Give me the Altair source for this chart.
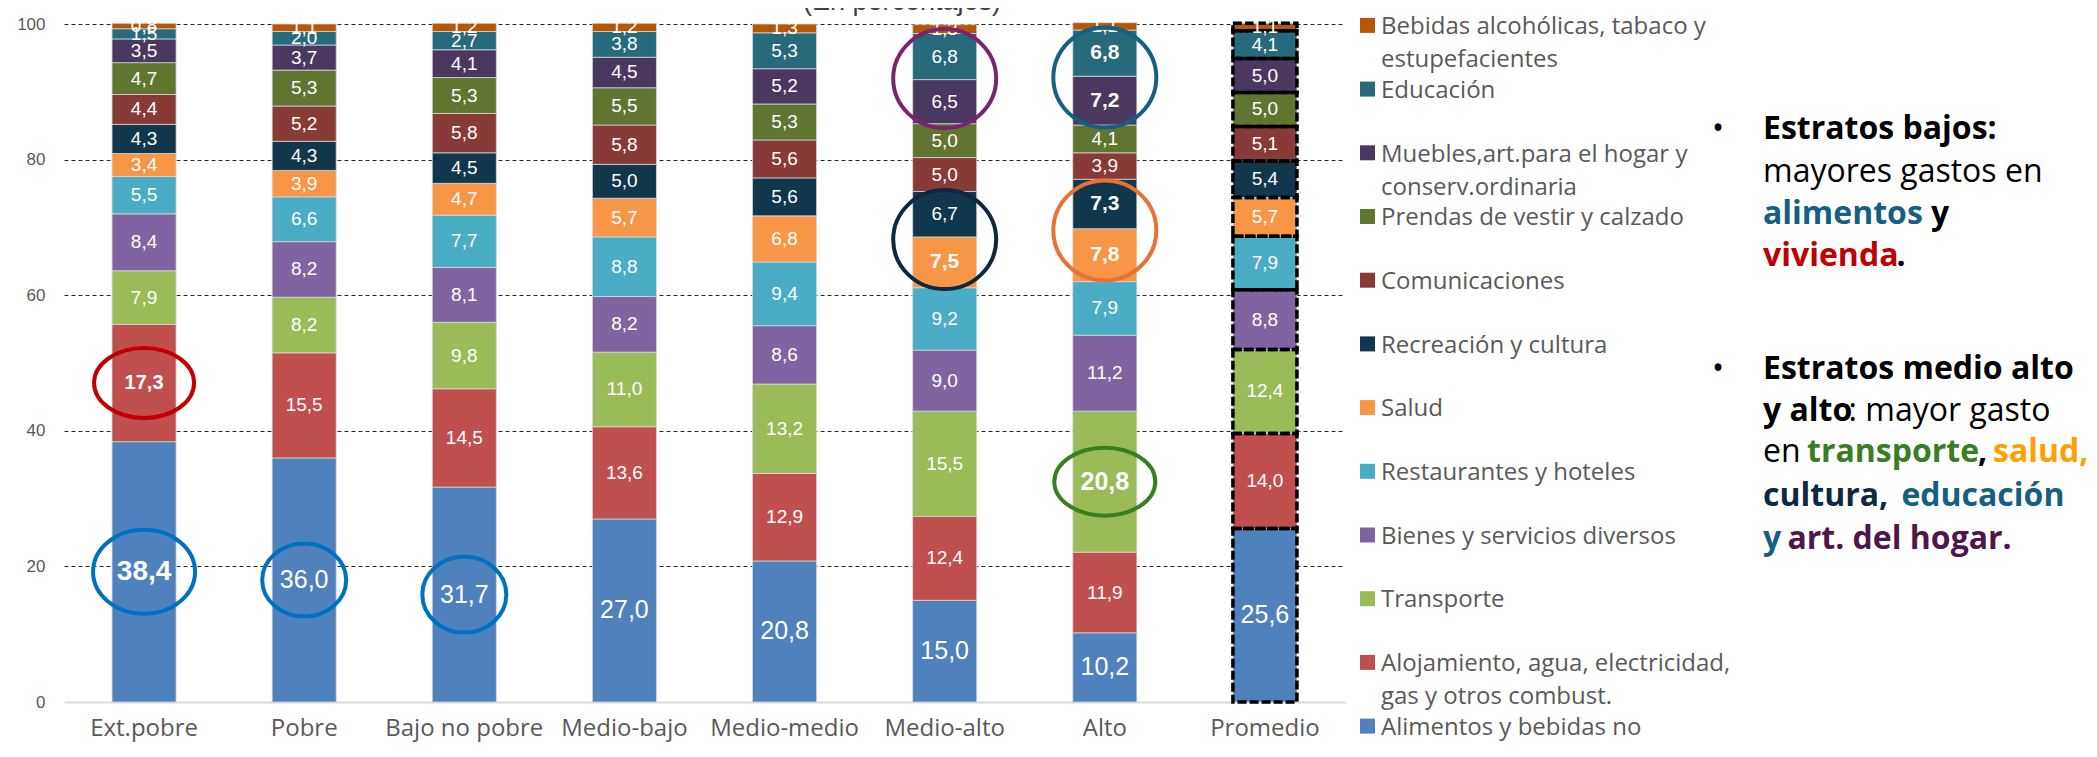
import altair as alt
import pandas as pd

categories = ["Ext.pobre", "Pobre", "Bajo no pobre", "Medio-bajo", "Medio-medio",
              "Medio-alto", "Alto", "Promedio"]

series = [
    "Alimentos y bebidas no\nalcohólicas",
    "Alojamiento, agua, electricidad,\ngas y otros combust.",
    "Transporte",
    "Bienes y servicios diversos",
    "Restaurantes y hoteles",
    "Salud",
    "Recreación y cultura",
    "Comunicaciones",
    "Prendas de vestir y calzado",
    "Muebles,art.para el hogar y\nconserv.ordinaria",
    "Educación",
    "Bebidas alcohólicas, tabaco y\nestupefacientes",
]

alimentos = [38.4, 36.0, 31.7, 27.0, 20.8, 15.0, 10.2, 25.6]
alojamiento = [17.3, 15.5, 14.5, 13.6, 12.9, 12.4, 11.9, 14.0]
transporte = [7.9, 8.2, 9.8, 11.0, 13.2, 15.5, 20.8, 12.4]
bienes = [8.4, 8.2, 8.1, 8.2, 8.6, 9.0, 11.2, 8.8]
restaurantes = [5.5, 6.6, 7.7, 8.8, 9.4, 9.2, 7.9, 7.9]
salud = [3.4, 3.9, 4.7, 5.7, 6.8, 7.5, 7.8, 5.7]
recreacion = [4.3, 4.3, 4.5, 5.0, 5.6, 6.7, 7.3, 5.4]
comunicaciones = [4.4, 5.2, 5.8, 5.8, 5.6, 5.0, 3.9, 5.1]
prendas = [4.7, 5.3, 5.3, 5.5, 5.3, 5.0, 4.1, 5.0]
muebles = [3.5, 3.7, 4.1, 4.5, 5.2, 6.5, 7.2, 5.0]
educacion = [1.5, 2.0, 2.7, 3.8, 5.3, 6.8, 6.8, 4.1]
bebidas = [0.8, 1.1, 1.2, 1.2, 1.3, 1.3, 1.1, 1.1]

values = [alimentos, alojamiento, transporte, bienes, restaurantes, salud,
          recreacion, comunicaciones, prendas, muebles, educacion, bebidas]

colors = ["#4F81BD", "#C0504D", "#9BBB59", "#8064A2", "#4BACC6", "#F79646",
          "#10374B", "#873A36", "#5F7530", "#4A3860", "#276A7C", "#B65708"]

# label emphasis: (category, series index) -> (font size, bold)
emphasis = {
    ("Ext.pobre", 1): (20, True),
    ("Ext.pobre", 0): (28, True),
    ("Medio-alto", 5): (21, True),
    ("Alto", 5): (21, True),
    ("Alto", 6): (21, True),
    ("Alto", 9): (21, True),
    ("Alto", 10): (21, True),
    ("Alto", 2): (25, True),
}

# highlight ellipses: category, series indices, colour, width px, height px
highlights = [
    ("Ext.pobre", [1], "#C00000", 100, 70),
    ("Ext.pobre", [0], "#0070C0", 102, 84),
    ("Pobre", [0], "#0070C0", 84, 73),
    ("Bajo no pobre", [0], "#0070C0", 84, 76),
    ("Medio-alto", [9, 10], "#7B2373", 103, 99),
    ("Medio-alto", [5, 6], "#0E2841", 103, 99),
    ("Alto", [9, 10], "#156082", 103, 100),
    ("Alto", [5, 6], "#E97132", 103, 100),
    ("Alto", [2], "#3A7D22", 101, 68),
]


def ellipse_path(w, h):
    m = max(w, h)
    a, b = w / m, h / m
    k = 0.5523
    return (f"M {a} 0 C {a} {k*b} {k*a} {b} 0 {b} "
            f"C {-k*a} {b} {-a} {k*b} {-a} 0 "
            f"C {-a} {-k*b} {-k*a} {-b} 0 {-b} "
            f"C {k*a} {-b} {a} {-k*b} {a} 0 Z")


hl_lookup = {}
for hi, (c, idxs, col, w, h) in enumerate(highlights):
    for si in idxs:
        hl_lookup[(c, si)] = (f"h{hi}", col, ellipse_path(w, h), max(w, h) ** 2)

rows = []
for si, s in enumerate(series):
    for ci, c in enumerate(categories):
        v = values[si][ci]
        fs, bold = emphasis.get((c, si), (25 if si == 0 else 19, False))
        hl, hcol, hpath, hsize = hl_lookup.get((c, si), ("", "", "", 0))
        rows.append(dict(cat=c, serie=s, si=si, v=v,
                         label=f"{v:.1f}".replace(".", ","),
                         fs=fs, bold=bold, hl=hl, hcol=hcol, hpath=hpath, hsize=hsize))
df = pd.DataFrame(rows)

legend_df = pd.DataFrame({"serie": series, "lrank": [len(series) - 1 - i for i in range(len(series))]})

W, H = 1281, 678

x_axis = alt.Axis(title=None, labelAngle=0, labelFont="Open Sans", labelFontSize=24,
                  labelColor="#595959", ticks=False, domainColor="#D9D9D9", domainWidth=2,
                  labelPadding=14, grid=False)
y_axis = alt.Axis(title=None, values=[0, 20, 40, 60, 80, 100], labelFont="Liberation Sans",
                  labelFontSize=17, labelColor="#595959", ticks=False, domain=False,
                  labelPadding=19, gridDash=[4, 3], gridColor="#262626", gridWidth=1,
                  gridOpacity={"condition": {"test": "datum.value === 0", "value": 0}, "value": 1})
x_scale = alt.Scale(paddingInner=0.6, paddingOuter=0.3)
y_scale = alt.Scale(domain=[0, 100], nice=False)
color_scale = alt.Scale(domain=series, range=colors)

X = alt.X("cat:N", sort=categories, scale=x_scale, axis=x_axis)

base = alt.Chart(df).transform_stack(
    stack="v", groupby=["cat"], as_=["y0", "y1"],
    sort=[alt.SortField("si", order="ascending")]
).transform_calculate(mid="(datum.y0 + datum.y1) / 2")

bars = base.mark_bar(stroke="#D9D9D9", strokeWidth=0.75).encode(
    x=X,
    y=alt.Y("y0:Q", scale=y_scale, axis=y_axis),
    y2="y1:Q",
    color=alt.Color("serie:N", scale=color_scale, legend=None),
)

prom = base.transform_filter(alt.datum.cat == "Promedio").mark_bar(
    fillOpacity=0, stroke="black", strokeWidth=3.5, strokeDash=[9, 3]
).encode(x=X, y=alt.Y("y0:Q", scale=y_scale, axis=y_axis), y2="y1:Q")

lab_norm = base.transform_filter("!datum.bold").mark_text(
    color="white", font="Liberation Sans", baseline="middle", align="center"
).encode(x=X, y=alt.Y("mid:Q", scale=y_scale, axis=y_axis), text="label:N",
         size=alt.Size("fs:Q", scale=None, legend=None))

lab_bold = base.transform_filter("datum.bold").mark_text(
    color="white", font="Liberation Sans", fontWeight="bold", baseline="middle", align="center"
).encode(x=X, y=alt.Y("mid:Q", scale=y_scale, axis=y_axis), text="label:N",
         size=alt.Size("fs:Q", scale=None, legend=None))

ell = base.transform_filter("datum.hl != ''").transform_aggregate(
    lo="min(y0)", hi="max(y1)", groupby=["cat", "hl", "hcol", "hpath", "hsize"]
).transform_calculate(c="(datum.lo + datum.hi) / 2").mark_point(
    filled=False, strokeWidth=4, opacity=1
).encode(
    x=X, y=alt.Y("c:Q", scale=y_scale, axis=y_axis),
    shape=alt.Shape("hpath:N", scale=None, legend=None),
    size=alt.Size("hsize:Q", scale=None, legend=None),
    stroke=alt.Stroke("hcol:N", scale=None, legend=None),
)

plot = alt.layer(bars, prom, lab_norm, lab_bold, ell)

# legend
lscale = alt.Scale(domain=[0, 11], range=[1.4, 702.1])
leg_sq = alt.Chart(legend_df).mark_square(size=225, opacity=1).encode(
    x=alt.value(1303.5),
    y=alt.Y("lrank:Q", scale=lscale, axis=None),
    color=alt.Color("serie:N", scale=color_scale, legend=None),
)
leg_tx = alt.Chart(legend_df).mark_text(
    align="left", baseline="alphabetic", dy=8.7, lineBreak="\n", lineHeight=33,
    font="Open Sans", fontSize=24, color="#595959"
).encode(
    x=alt.value(1317),
    y=alt.Y("lrank:Q", scale=lscale, axis=None),
    text="serie:N",
)

one = alt.Data(values=[{}])


def run(text, x, y, color="black", weight="normal", size=32, font="Open Sans", align="left"):
    return alt.Chart(one).mark_text(
        text=text, x=x, y=y, color=color, fontWeight=weight, fontSize=size,
        font=font, align=align, baseline="alphabetic")


TEAL = "#156082"
notes = [
    run("(En porcentajes)", 838, -14, color="#404040", size=27, font="Liberation Sans", align="center"),
    run("•", 1654, 114.5, align="center"),
    run("Estratos bajos:", 1699, 114.5, weight="bold"),
    run("mayores gastos en", 1699, 158),
    run("alimentos", 1699, 200, color=TEAL, weight="bold"),
    run("y", 1867, 200, weight="bold"),
    run("vivienda", 1699, 241.6, color="#C00000", weight="bold"),
    run(".", 1832.5, 241.6, weight="bold"),
    run("•", 1654, 355, align="center"),
    run("Estratos medio alto", 1699, 355, weight="bold"),
    run("y alto", 1699, 396.7, weight="bold"),
    run(": mayor gasto", 1784.6, 396.7),
    run("en", 1699, 438),
    run("transporte", 1743, 438, color="#3A7D22", weight="bold"),
    run(",", 1914, 438, weight="bold"),
    run("salud,", 1929, 438, color="#FFA000", weight="bold"),
    run("cultura,", 1699, 482, color="#0E2841", weight="bold"),
    run("educación", 1837.4, 482, color=TEAL, weight="bold"),
    run("y", 1699, 525, color=TEAL, weight="bold"),
    run("art. del hogar.", 1723.4, 525, color="#501549", weight="bold"),
]

chart = alt.layer(plot, leg_sq, leg_tx, *notes).resolve_scale(y="independent").properties(
    width=W, height=H,
    autosize=alt.AutoSizeParams(type="none"),
    padding={"left": 56, "top": 16, "right": 744, "bottom": 47},
).configure_view(stroke=None)

chart.save("out.html", embed_options={"renderer": "svg", "actions": False})
